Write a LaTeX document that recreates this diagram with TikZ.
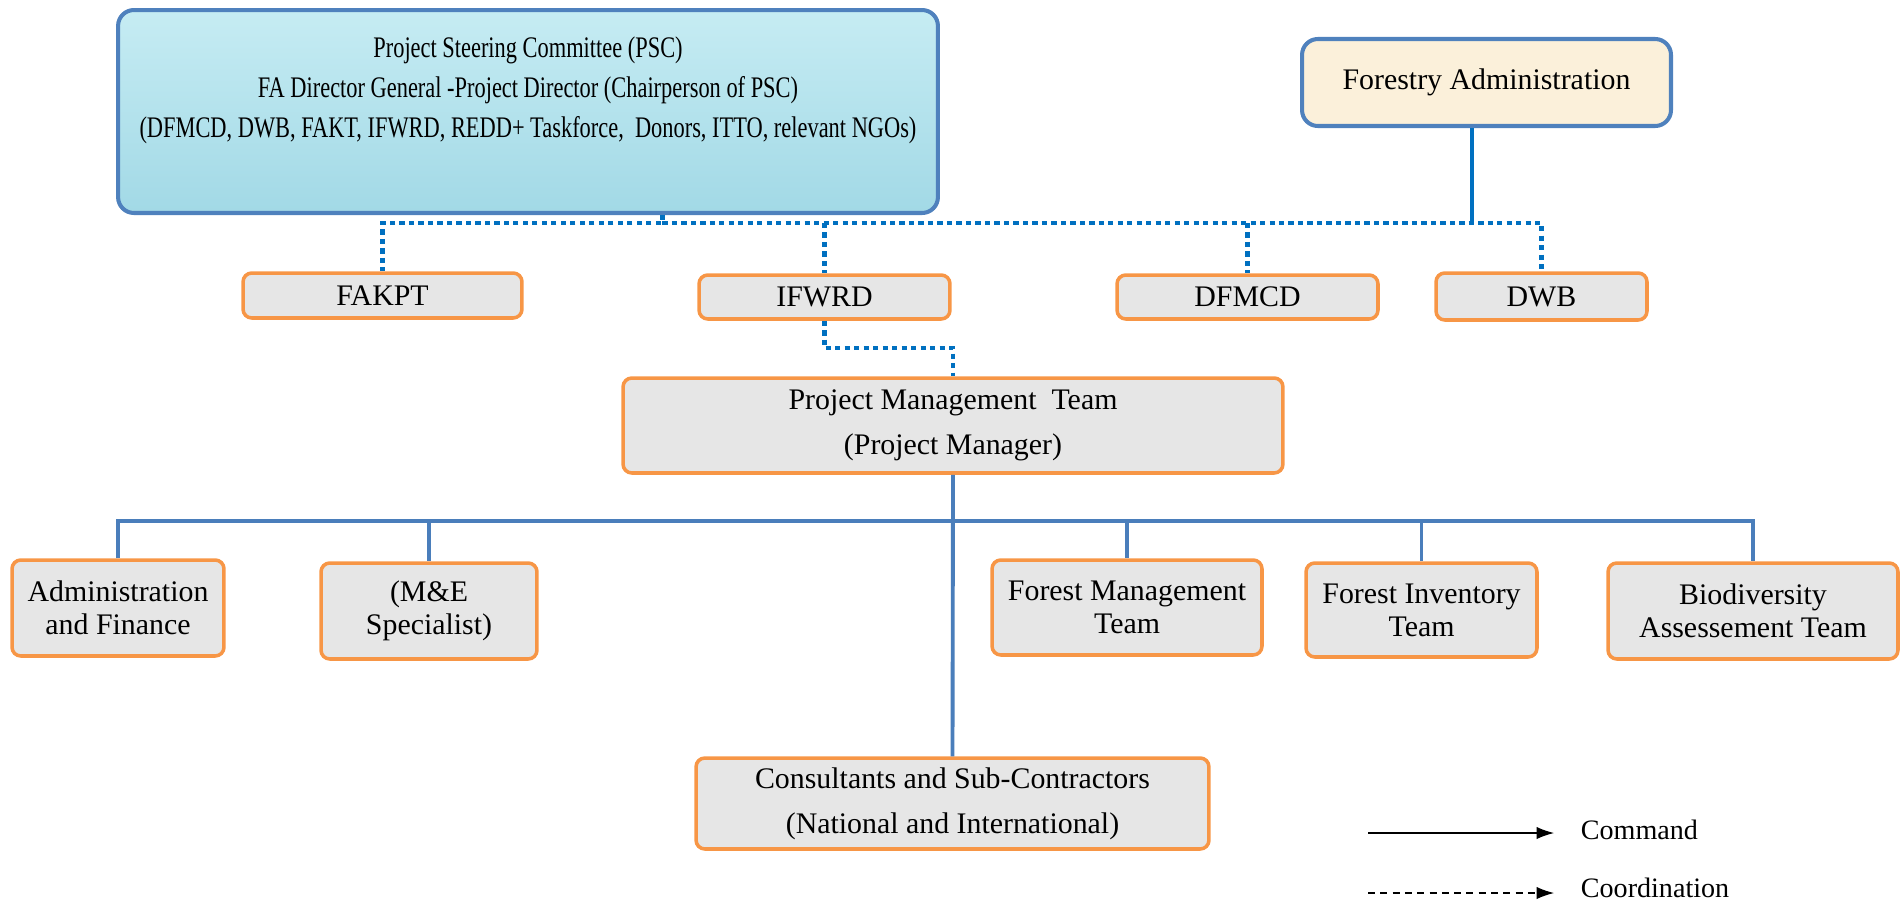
\documentclass[tikz,border=0pt]{standalone}
\usepackage{fontspec}
\setmainfont{Liberation Serif}
\newfontfamily\narrowserif[FakeStretch=0.75]{Liberation Serif}
\usetikzlibrary{arrows.meta,calc}
\definecolor{boxblue}{HTML}{4F81BD}
\definecolor{linkblue}{HTML}{0070C0}
\definecolor{busblue}{HTML}{4A7EBB}
\definecolor{boxorange}{HTML}{F79646}
\definecolor{granite}{HTML}{E6E6E6}
\definecolor{watertop}{HTML}{C6ECF3}
\definecolor{waterbottom}{HTML}{A2D9E6}
\definecolor{cream}{HTML}{FBF0DA}

\begin{document}
\begin{tikzpicture}[x=0.02cm,y=-0.02cm]
\tikzstyle{every node}+=[inner sep=0pt, align=center, font=\fontsize{17}{25.5}\selectfont]
\tikzstyle{headbox}=[draw=boxblue, line width=2.3pt, rounded corners=9pt]
\tikzstyle{unitbox}=[draw=boxorange, line width=2pt, fill=granite, rounded corners=5pt]
\tikzstyle{teamtext}=[font=\fontsize{17}{18.7}\selectfont]
\tikzstyle{coordlink}=[draw=linkblue, line width=2.6pt, dash pattern=on 3pt off 2.4pt]
\tikzstyle{cmdlink}=[draw=busblue, line width=2.2pt]
\tikzstyle{legendline}=[black, line width=0.8pt, -{Latex[length=10pt,width=7pt]}, shorten >=13pt]
\useasboundingbox (0,0) rectangle (1902,903);
\node [headbox, top color=watertop, bottom color=waterbottom, minimum width=16.4cm, minimum height=4.06cm] (psc) at (528,111.5) {};
\node [font=\narrowserif\fontsize{17}{22.7}\selectfont] (psctext) at (528,90) {Project Steering Committee (PSC)\\FA Director General -Project Director (Chairperson of PSC)\\(DFMCD, DWB, FAKT, IFWRD, REDD+ Taskforce,\ \ Donors, ITTO, relevant NGOs)};
\node [headbox, fill=cream, minimum width=7.38cm, minimum height=1.74cm] (fa) at (1486.5,82.5) {Forestry Administration};
\node [unitbox, minimum width=5.58cm, minimum height=0.9cm] (fakpt) at (382.5,295.5) {FAKPT};
\node [unitbox, minimum width=5.02cm, minimum height=0.88cm] (ifwrd) at (824.5,297) {IFWRD};
\node [unitbox, minimum width=5.22cm, minimum height=0.88cm] (dfmcd) at (1247.5,297) {DFMCD};
\node [unitbox, minimum width=4.22cm, minimum height=0.94cm] (dwb) at (1541.5,296.5) {DWB};
\node [unitbox, minimum width=13.2cm, minimum height=1.9cm] (pmt) at (953,425.5) {Project Management\ \ Team\\(Project Manager)};
\node [unitbox, teamtext, minimum width=4.24cm, minimum height=1.92cm] (admin) at (118,608) {Administration\\and Finance};
\node [unitbox, teamtext, minimum width=4.32cm, minimum height=1.92cm] (mande) at (429,611) {(M\&E\\Specialist)};
\node [unitbox, teamtext, minimum width=5.4cm, minimum height=1.9cm] (fmt) at (1127,607.5) {Forest Management\\Team};
\node [unitbox, teamtext, minimum width=4.62cm, minimum height=1.88cm] (fit) at (1421.5,610) {Forest Inventory\\Team};
\node [unitbox, teamtext, minimum width=5.8cm, minimum height=1.92cm] (bat) at (1753,611) {Biodiversity\\Assessement Team};
\node [unitbox, minimum width=10.26cm, minimum height=1.82cm] (cons) at (952.5,803.5) {Consultants and Sub-Contractors\\(National and International)};
\coordinate (topbus) at (0,223);
\coordinate (jog) at (0,348);
\coordinate (lowbus) at (0,521);
\coordinate (pscout) at ($(psc.south west)!0.663!(psc.south east)$);
\coordinate (faout) at ($(fa.south)+(-14.5,0)$);
\draw [coordlink] (pscout) -- (pscout |- topbus) -| (fakpt.north);
\draw [coordlink] (pscout |- topbus) -| (dwb.north);
\draw [coordlink] (ifwrd.north |- topbus) -- (ifwrd.north);
\draw [coordlink] (dfmcd.north |- topbus) -- (dfmcd.north);
\draw [draw=linkblue, line width=2pt] (faout) -- (faout |- topbus);
\draw [coordlink] (ifwrd.south) -- (ifwrd.south |- jog) -| (pmt.north);
\draw [cmdlink] (pmt.south) -- (cons.north);
\draw [cmdlink] (admin.north) -- (admin.north |- lowbus) -- (bat.north |- lowbus) -- (bat.north);
\draw [cmdlink] (mande.north |- lowbus) -- (mande.north);
\draw [cmdlink] (fmt.north |- lowbus) -- (fmt.north);
\draw [cmdlink] (fit.north |- lowbus) -- (fit.north);
\node [anchor=west, inner sep=2pt, font=\fontsize{16}{19}\selectfont] (cmdtext) at (1577,830) {Command};
\node [anchor=west, inner sep=2pt, font=\fontsize{16}{19}\selectfont] (coordtext) at (1577,888) {Coordination};
\coordinate (cmdtail) at (1368,833);
\coordinate (coordtail) at (1368,893);
\draw [legendline] (cmdtail) -- (cmdtail -| cmdtext.west);
\draw [legendline, dash pattern=on 4pt off 3pt] (coordtail) -- (coordtail -| coordtext.west);
\end{tikzpicture}
\end{document}
